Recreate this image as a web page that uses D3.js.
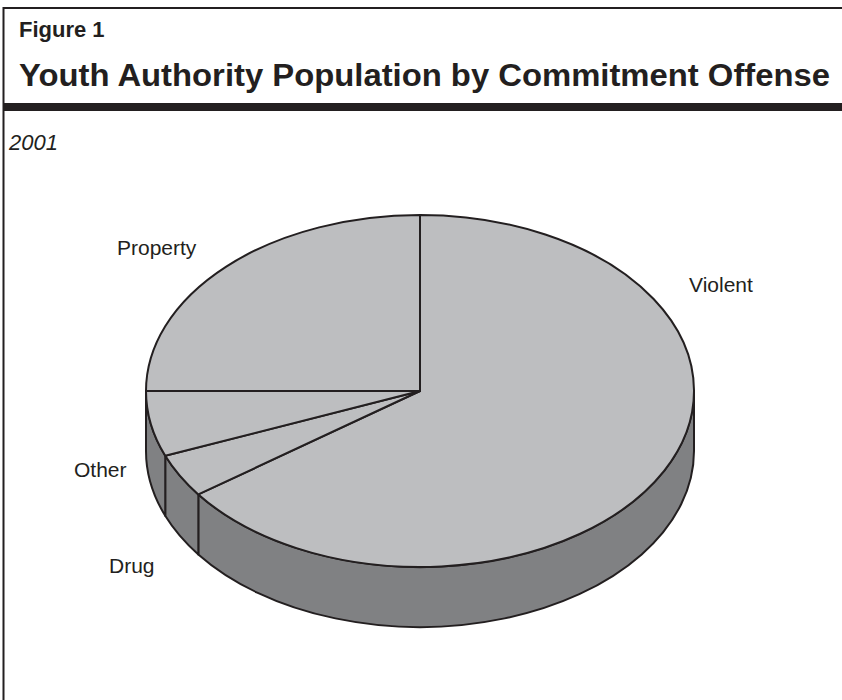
<!DOCTYPE html>
<html>
<head>
<meta charset="utf-8">
<script src="https://cdn.jsdelivr.net/npm/d3@7"></script>
<style>
  html, body { margin: 0; padding: 0; background: #fff; }
  svg { display: block; }
  text { font-family: "Liberation Sans", Arial, sans-serif; fill: #231f20; }
</style>
</head>
<body>
<svg id="chart" width="842" height="700"></svg>
<script>
// ---- data ----
const categories = ["Violent", "Drug", "Other", "Property"];
const values = [65, 4, 6, 25];
const figureLabel = "Figure 1";
const title = "Youth Authority Population by Commitment Offense";
const subtitle = "2001";

// ---- layout ----
const W = 842, H = 700;
const cx = 420, cy = 391, rx = 274, ry = 176, depth = 60;
const topColor = "#bdbec0", sideColor = "#808183", ink = "#231f20";
const labelPos = {
  Violent: [689, 292],
  Drug: [109, 573],
  Other: [74, 477],
  Property: [117, 255]
};

const svg = d3.select("#chart");

// frame
svg.append("line").attr("x1", 3.5).attr("x2", 3.5).attr("y1", 7).attr("y2", H)
  .attr("stroke", ink).attr("stroke-width", 2);
svg.append("line").attr("x1", 3).attr("x2", W).attr("y1", 8).attr("y2", 8)
  .attr("stroke", ink).attr("stroke-width", 2);
svg.append("rect").attr("x", 3).attr("y", 103).attr("width", W - 3).attr("height", 8)
  .attr("fill", ink);

svg.append("text").attr("x", 19).attr("y", 37)
  .attr("font-size", 22).attr("font-weight", "bold").text(figureLabel);
svg.append("text").attr("x", 19).attr("y", 86)
  .attr("font-size", 31).attr("font-weight", "bold")
  .attr("textLength", 811).attr("lengthAdjust", "spacingAndGlyphs").text(title);
svg.append("text").attr("x", 9).attr("y", 150)
  .attr("font-size", 22).attr("font-style", "italic").text(subtitle);

// pie
const data = categories.map((c, i) => ({ name: c, value: values[i] }));
const pie = d3.pie().sort(null).value(d => d.value);
const arcs = pie(data);

const px = a => cx + rx * Math.sin(a);
const py = a => cy - ry * Math.cos(a);

const g = svg.append("g");

// side walls (front half: angles between PI/2 and 3PI/2)
arcs.forEach(d => {
  const a0 = Math.max(d.startAngle, Math.PI / 2);
  const a1 = Math.min(d.endAngle, 3 * Math.PI / 2);
  if (a1 <= a0) return;
  const p = d3.path();
  p.moveTo(px(a0), py(a0));
  const large = (a1 - a0) > Math.PI ? 1 : 0;
  p._ += `A${rx},${ry},0,${large},1,${px(a1)},${py(a1)}`;
  p.lineTo(px(a1), py(a1) + depth);
  p._ += `A${rx},${ry},0,${large},0,${px(a0)},${py(a0) + depth}`;
  p.closePath();
  g.append("path").attr("d", p.toString())
    .attr("fill", sideColor).attr("stroke", ink).attr("stroke-width", 2)
    .attr("stroke-linejoin", "round");
});

// top faces
arcs.forEach(d => {
  const a0 = d.startAngle, a1 = d.endAngle;
  const large = (a1 - a0) > Math.PI ? 1 : 0;
  const p = d3.path();
  p.moveTo(cx, cy);
  p.lineTo(px(a0), py(a0));
  p._ += `A${rx},${ry},0,${large},1,${px(a1)},${py(a1)}`;
  p.closePath();
  g.append("path").attr("d", p.toString())
    .attr("fill", topColor).attr("stroke", ink).attr("stroke-width", 2)
    .attr("stroke-linejoin", "round");
});

// labels
arcs.forEach(d => {
  const [x, y] = labelPos[d.data.name];
  svg.append("text").attr("x", x).attr("y", y).attr("font-size", 21).text(d.data.name);
});
</script>
</body>
</html>
